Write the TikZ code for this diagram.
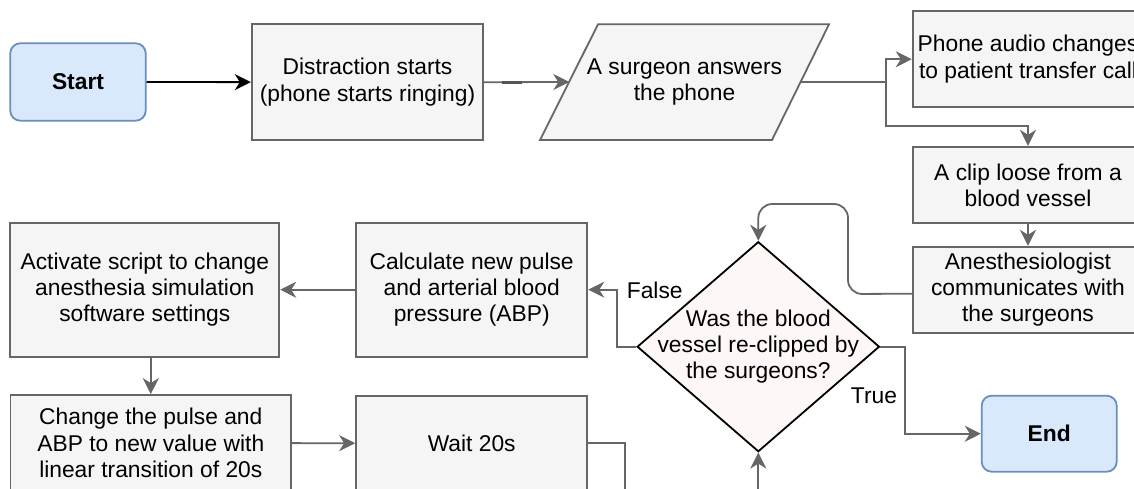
\documentclass[tikz,border=0pt]{standalone}
\usepackage{fontspec}
\setmainfont{Liberation Sans}
\usetikzlibrary{arrows.meta,shapes.geometric}
\definecolor{boxfill}{HTML}{F5F5F5}
\definecolor{boxdraw}{HTML}{666666}
\definecolor{termfill}{HTML}{DAE8FC}
\definecolor{termdraw}{HTML}{6C8EBF}
\definecolor{diafill}{HTML}{FDF8F5}
\definecolor{edgecol}{HTML}{666666}
\definecolor{dashcol}{HTML}{555555}
\begin{document}
\begin{tikzpicture}[x=1pt,y=-1pt,
  every node/.style={font=\fontsize{22.8}{26.3}\selectfont, text=black},
  procbox/.style={rectangle, draw=boxdraw, fill=boxfill, line width=1.8pt, inner sep=0pt, align=center},
  termbox/.style={rectangle, rounded corners=10pt, draw=termdraw, fill=termfill, line width=1.8pt, inner sep=0pt, font=\fontsize{22.8}{26.3}\selectfont\bfseries},
  conn/.style={draw=edgecol, line width=1.8pt, -{Stealth[length=16pt,width=16pt,inset=5pt]}},
  lbl/.style={inner sep=0pt}
]
\useasboundingbox (0,0) rectangle (1134,488);
\clip (0,0) rectangle (1134,488);

% nodes
\node[termbox, minimum width=135.4pt, minimum height=77.4pt] (start) at (78,82) {Start};
\node[procbox, minimum width=231.6pt, minimum height=115.7pt] (distr) at (367.5,82.2) {Distraction starts\\(phone starts ringing)};
\filldraw[fill=boxfill, draw=boxdraw, line width=1.8pt] (540,140) -- (772,140) -- (829,24.3) -- (598,24.3) -- cycle;
\node[lbl, align=center] (surg) at (684.5,82) {A surgeon answers\\the phone};
\coordinate (surgW) at (569.3,82);
\coordinate (surgE) at (800.5,82);
\node[procbox, minimum width=230.6pt, minimum height=96.3pt] (phone) at (1028,59.2) {Phone audio changes\\to patient transfer call};
\node[procbox, minimum width=230.6pt, minimum height=76.6pt] (clip) at (1028,185) {A clip loose from a\\blood vessel};
\node[procbox, minimum width=230.6pt, minimum height=86pt] (anest) at (1028,289.7) {Anesthesiologist\\communicates with\\the surgeons};
\node[diamond, draw=black, fill=diafill, line width=1.8pt, minimum width=242.3pt, minimum height=210pt, inner sep=0pt] (dia) at (758.3,346.7) {};
\node[lbl, align=center] (diatext) at (dia.center) {Was the blood\\vessel re-clipped by\\the surgeons?};
\node[termbox, minimum width=135pt, minimum height=76pt] (end) at (1049.2,433.7) {End};
\node[procbox, minimum width=231.3pt, minimum height=134pt] (calc) at (471.7,289.7) {Calculate new pulse\\and arterial blood\\pressure (ABP)};
\node[procbox, minimum width=269pt, minimum height=134pt] (act) at (144.8,289.7) {Activate script to change\\anesthesia simulation\\software settings};
\node[procbox, minimum width=280.5pt, minimum height=96pt] (change) at (150.8,443) {Change the pulse and\\ABP to new value with\\linear transition of 20s};
\node[procbox, minimum width=231.3pt, minimum height=95.2pt] (wait) at (471.7,443.3) {Wait 20s};

% connectors
\draw[conn, draw=black] (start) -- (distr);
\draw[conn] (distr.east) -- node[pos=0.33, fill=dashcol, minimum width=20pt, minimum height=3pt, inner sep=0pt] (dash) {} (surgW);
\coordinate (j1) at (885.7,82);
\draw[conn] (surgE) -- (j1) |- (phone.west);
\draw[conn] (j1) -- (885.7,126) -| (clip.north);
\draw[conn] (clip) -- (anest);
\draw[conn, rounded corners=14pt] ([yshift=-4pt]anest.west) -- (848,294) -- (848,204) -- (758.3,204) -- (dia.north);
\draw[conn] (dia.west) -- (617.3,346.7) |- (calc.east);
\node[lbl] (false) at (654.7,290) {False};
\draw[conn] (dia.east) -- (905,346.7) |- (end.west);
\node[lbl] (true) at (874,396) {True};
\draw[conn] (calc) -- (act);
\draw[conn] (act.south -| change.north) -- (change.north);
\draw[conn] (change) -- (wait);
\draw[conn] (wait.east) -- (625,443.3) -- (625,520) -| (dia.south);
\end{tikzpicture}
\end{document}
